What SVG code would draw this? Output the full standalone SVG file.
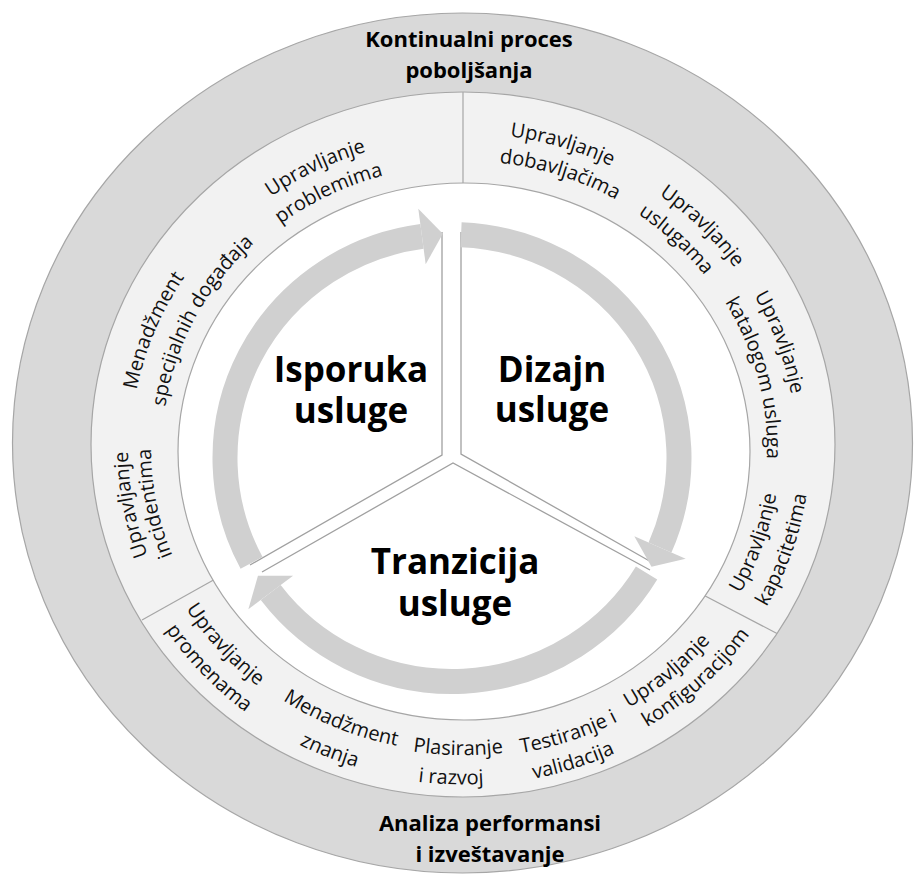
<svg xmlns="http://www.w3.org/2000/svg" xmlns:xlink="http://www.w3.org/1999/xlink" width="915" height="875" viewBox="0 0 915 875">
<style>
.bg{fill:#ffffff}
.ring{stroke:#a6a6a6;stroke-width:1.2}
.div{stroke:#a6a6a6;stroke-width:1.2;fill:none}
.sep{stroke:#a0a0a0;stroke-width:1.3;fill:none}
.arc{fill:none;stroke:#d0d0d0;stroke-width:25}
.head{fill:#d0d0d0}
.t{font-family:"Open Sans","Liberation Sans",sans-serif;font-size:20px;fill:#111111}
.ob{font-family:"Open Sans","Liberation Sans",sans-serif;font-size:22px;font-weight:bold;fill:#000000;text-anchor:middle}
.cb{font-family:"Open Sans","Liberation Sans",sans-serif;font-size:35px;font-weight:bold;fill:#000000;text-anchor:middle}
</style>
<defs>
<path id="pA1" d="M161.08,326.89 A328,309.96 0 0 1 536.78,145.98"/>
<path id="pA2" d="M187.77,337.60 A299,282.56 0 0 1 530.26,172.68"/>
<path id="pB1" d="M148.34,548.07 A332,313.74 0 0 1 304.10,172.54"/>
<path id="pB2" d="M169.95,512.95 A301,284.45 0 0 1 344.42,186.55"/>
<path id="pC1" d="M247.67,690.51 A335,316.58 0 0 1 172.88,289.71"/>
<path id="pC2" d="M264.54,675.51 A312,294.84 0 0 1 191.45,302.81"/>
<path id="pD1" d="M336.10,157.05 A333,314.69 0 0 1 744.16,279.38"/>
<path id="pD2" d="M353.56,179.98 A304,287.28 0 0 1 723.31,299.61"/>
<path id="pE1" d="M498.86,136.10 A332,313.74 0 0 1 794.27,427.21"/>
<path id="pE2" d="M487.83,162.62 A303,286.34 0 0 1 764.70,421.55"/>
<path id="pF1" d="M634.51,178.26 A333,314.69 0 0 1 773.88,560.78"/>
<path id="pF2" d="M642.12,215.88 A304,287.28 0 0 1 736.00,574.39"/>
<path id="pG1" d="M628.16,703.70 A317,299.57 0 0 0 758.15,338.69"/>
<path id="pG2" d="M645.86,726.69 A347,327.92 0 0 0 785.19,326.22"/>
<path id="pH1" d="M470.84,751.26 A321,303.35 0 0 0 780.39,493.36"/>
<path id="pH2" d="M489.09,775.94 A348,328.86 0 0 0 809.28,480.66"/>
<path id="pI1" d="M348.67,738.52 A328,309.96 0 0 0 745.90,604.85"/>
<path id="pI2" d="M333.32,762.32 A357,337.37 0 0 0 768.03,623.27"/>
<path id="pJ1" d="M250.21,680.14 A325,307.13 0 0 0 668.01,686.32"/>
<path id="pJ2" d="M224.79,698.01 A356,336.42 0 0 0 682.17,713.10"/>
<path id="pK1" d="M175.08,584.25 A322,304.29 0 0 0 554.99,739.61"/>
<path id="pK2" d="M147.58,599.87 A354,334.53 0 0 0 566.50,767.91"/>
<path id="pL1" d="M138.02,451.22 A325,307.13 0 0 0 409.92,751.00"/>
<path id="pL2" d="M109.19,459.09 A354,334.53 0 0 0 413.12,779.19"/>
</defs>
<rect class="bg" x="0" y="0" width="915" height="875"/>

<g id="outer-ring">
<ellipse class="ring" cx="462.5" cy="443" rx="450" ry="430" fill="#d9d9d9"/>
</g>
<g id="process-ring">
<ellipse class="ring" cx="463" cy="444.5" rx="372" ry="352.5" fill="#f2f2f2"/>
<line class="div" x1="463" y1="92" x2="463" y2="195"/>
<line class="div" x1="142" y1="620" x2="222" y2="575.3"/>
<line class="div" x1="777" y1="633.5" x2="700" y2="593.3"/>
<ellipse class="ring" cx="464" cy="451.5" rx="286" ry="268.5" fill="#ffffff"/>
</g>

<g id="sectors">
<polyline class="sep" points="442,232 442,455 250,565"/>
<polyline class="sep" points="461,232 461,454 653,563"/>
<polyline class="sep" points="262,572 453,463 650,570"/>
</g>

<g id="connectors">
<path class="arc" d="M251.57,562.93 A227,223.5 0 0 1 421.98,236.46"/>
<polygon class="head" points="418.3,208.7 442.8,233.8 425.7,264.3"/>
<path class="arc" d="M461.11,234.68 A227,223.5 0 0 1 660.01,547.48"/>
<polygon class="head" points="685.67,558.69 651.49,566.67 634.35,536.27"/>
<path class="arc" d="M646.58,573.11 A227,223.5 0 0 1 270.71,592.51"/>
<polygon class="head" points="248.35,609.36 257.95,575.83 293.07,575.66"/>
</g>

<g id="label-kontinualni">
<text class="ob" x="469" y="47">Kontinualni proces</text>
<text class="ob" x="469" y="78">poboljšanja</text>
</g>
<g id="label-analiza">
<text class="ob" x="490" y="831">Analiza performansi</text>
<text class="ob" x="490" y="862">i izveštavanje</text>
</g>

<g id="node-isporuka">
<text class="cb" x="351" y="382">Isporuka</text>
<text class="cb" x="351" y="423">usluge</text>
</g>
<g id="node-dizajn">
<text class="cb" x="552" y="382">Dizajn</text>
<text class="cb" x="552" y="422">usluge</text>
</g>
<g id="node-tranzicija">
<text class="cb" x="455" y="574">Tranzicija</text>
<text class="cb" x="455" y="616">usluge</text>
</g>

<g id="proc-problemi"><text class="t" text-anchor="middle"><textPath href="#pA1" xlink:href="#pA1" startOffset="50%">Upravljanje</textPath></text><text class="t" text-anchor="middle"><textPath href="#pA2" xlink:href="#pA2" startOffset="50%">problemima</textPath></text></g>
<g id="proc-dogadjaji"><text class="t" text-anchor="middle"><textPath href="#pB1" xlink:href="#pB1" startOffset="50%">Menadžment</textPath></text><text class="t" text-anchor="middle"><textPath href="#pB2" xlink:href="#pB2" startOffset="50%">specijalnih događaja</textPath></text></g>
<g id="proc-incidenti"><text class="t" text-anchor="middle"><textPath href="#pC1" xlink:href="#pC1" startOffset="50%">Upravljanje</textPath></text><text class="t" text-anchor="middle"><textPath href="#pC2" xlink:href="#pC2" startOffset="50%">incidentima</textPath></text></g>
<g id="proc-dobavljaci"><text class="t" text-anchor="middle"><textPath href="#pD1" xlink:href="#pD1" startOffset="50%">Upravljanje</textPath></text><text class="t" text-anchor="middle"><textPath href="#pD2" xlink:href="#pD2" startOffset="50%">dobavljačima</textPath></text></g>
<g id="proc-usluge"><text class="t" text-anchor="middle"><textPath href="#pE1" xlink:href="#pE1" startOffset="50%">Upravljanje</textPath></text><text class="t" text-anchor="middle"><textPath href="#pE2" xlink:href="#pE2" startOffset="50%">uslugama</textPath></text></g>
<g id="proc-katalog"><text class="t" text-anchor="middle"><textPath href="#pF1" xlink:href="#pF1" startOffset="50%">Upravljanje</textPath></text><text class="t" text-anchor="middle"><textPath href="#pF2" xlink:href="#pF2" startOffset="50%">katalogom usluga</textPath></text></g>
<g id="proc-kapaciteti"><text class="t" text-anchor="middle"><textPath href="#pG1" xlink:href="#pG1" startOffset="50%">Upravljanje</textPath></text><text class="t" text-anchor="middle"><textPath href="#pG2" xlink:href="#pG2" startOffset="50%">kapacitetima</textPath></text></g>
<g id="proc-konfiguracija"><text class="t" text-anchor="middle"><textPath href="#pH1" xlink:href="#pH1" startOffset="50%">Upravljanje</textPath></text><text class="t" text-anchor="middle"><textPath href="#pH2" xlink:href="#pH2" startOffset="50%">konfiguracijom</textPath></text></g>
<g id="proc-testiranje"><text class="t" text-anchor="middle"><textPath href="#pI1" xlink:href="#pI1" startOffset="50%">Testiranje i</textPath></text><text class="t" text-anchor="middle"><textPath href="#pI2" xlink:href="#pI2" startOffset="50%">validacija</textPath></text></g>
<g id="proc-plasiranje"><text class="t" text-anchor="middle"><textPath href="#pJ1" xlink:href="#pJ1" startOffset="50%">Plasiranje</textPath></text><text class="t" text-anchor="middle"><textPath href="#pJ2" xlink:href="#pJ2" startOffset="50%">i razvoj</textPath></text></g>
<g id="proc-znanje"><text class="t" text-anchor="middle"><textPath href="#pK1" xlink:href="#pK1" startOffset="50%">Menadžment</textPath></text><text class="t" text-anchor="middle"><textPath href="#pK2" xlink:href="#pK2" startOffset="50%">znanja</textPath></text></g>
<g id="proc-promene"><text class="t" text-anchor="middle"><textPath href="#pL1" xlink:href="#pL1" startOffset="50%">Upravljanje</textPath></text><text class="t" text-anchor="middle"><textPath href="#pL2" xlink:href="#pL2" startOffset="50%">promenama</textPath></text></g>
</svg>
